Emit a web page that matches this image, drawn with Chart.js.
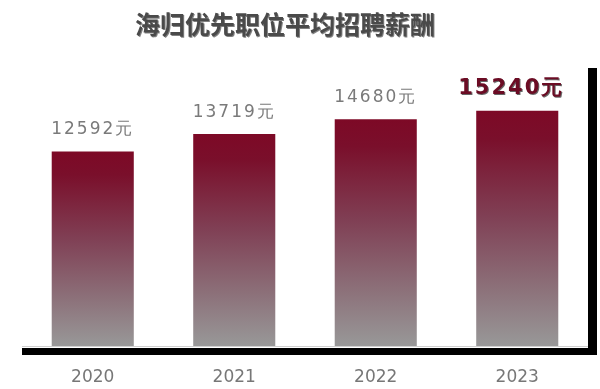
<!DOCTYPE html>
<html>
<head>
<meta charset="utf-8">
<script src="https://cdn.jsdelivr.net/npm/chart.js@4/dist/chart.umd.min.js"></script>
<style>
  body { margin: 0; background: #fff; overflow: hidden; }
  #wrap { width: 600px; height: 389px; }
</style>
</head>
<body>
<div id="wrap"><canvas id="salary-chart"></canvas></div>
<script>
// Chart data
const years = ['2020', '2021', '2022', '2023'];
const salaries = [12592, 13719, 14680, 15240];
const chartTitle = '海归优先职位平均招聘薪酬';
const unit = '元';

// vertical gradient per bar: dark red on top, gray at the bottom
function barGradient(context) {
    const chart = context.chart;
    const area = chart.chartArea;
    if (!area) return '#7d0a27';
    const yScale = chart.scales.y;
    const top = yScale.getPixelForValue(context.raw);
    const bottom = yScale.getPixelForValue(0);
    const g = chart.ctx.createLinearGradient(0, top, 0, bottom);
    g.addColorStop(0, '#7d0926');
    g.addColorStop(0.12, '#7a0f2b');
    g.addColorStop(0.45, '#804055');
    g.addColorStop(0.75, '#8c7079');
    g.addColorStop(1, '#989898');
    return g;
}

// title, frame shadow and value labels
const decorPlugin = {
    id: 'decor',
    beforeDatasetsDraw(chart) {
        const { ctx, chartArea } = chart;
        ctx.save();
        // thin gray baseline
        ctx.fillStyle = '#d0d0d0';
        ctx.fillRect(chartArea.left, chartArea.bottom, chartArea.right - chartArea.left, 1);
        // black frame on right and bottom
        ctx.fillStyle = '#000';
        ctx.fillRect(chartArea.right, chartArea.top, 9, chartArea.bottom - chartArea.top + 9);
        ctx.fillRect(chartArea.left, chartArea.bottom + 2, chartArea.right - chartArea.left + 9, 7);
        ctx.restore();
    },
    afterDatasetsDraw(chart) {
        const ctx = chart.ctx;
        const meta = chart.getDatasetMeta(0);
        ctx.save();
        ctx.textAlign = 'center';
        ctx.textBaseline = 'middle';
        meta.data.forEach((bar, i) => {
            const text = salaries[i] + unit;
            if (i === salaries.length - 1) {
                ctx.font = 'bold 21px "DejaVu Sans"';
                ctx.letterSpacing = '2px';
                ctx.shadowColor = 'rgba(0,0,0,0.6)';
                ctx.shadowOffsetX = 1;
                ctx.shadowOffsetY = 1;
                ctx.fillStyle = '#6b0c24';
                ctx.fillText(text, bar.x - 6, bar.y - 22);
            } else {
                ctx.font = '17px "DejaVu Sans"';
                ctx.letterSpacing = '2px';
                ctx.shadowColor = 'transparent';
                ctx.fillStyle = '#7a7a7a';
                ctx.fillText(text, bar.x, bar.y - 22);
            }
        });
        // title
        ctx.shadowColor = 'rgba(0,0,0,0.5)';
        ctx.shadowOffsetX = 1;
        ctx.shadowOffsetY = 1;
        ctx.letterSpacing = '0px';
        ctx.font = 'bold 25px "Noto Sans CJK SC"';
        ctx.fillStyle = '#4a4a4a';
        ctx.fillText(chartTitle, 285, 24);
        ctx.restore();
    }
};

const ctx = document.getElementById('salary-chart').getContext('2d');
const salaryChart = new Chart(ctx, {
    type: 'bar',
    data: {
        labels: years,
        datasets: [{
            data: salaries,
            backgroundColor: barGradient,
            borderWidth: 0,
            categoryPercentage: 1,
            barPercentage: 0.58
        }]
    },
    options: {
        responsive: true,
        maintainAspectRatio: false,
        animation: false,
        layout: {
            padding: { top: 68, left: 22, right: 12, bottom: 0 }
        },
        plugins: {
            legend: { display: false },
            tooltip: { enabled: false }
        },
        scales: {
            x: {
                grid: { display: false, drawTicks: false },
                border: { display: false },
                ticks: {
                    color: '#777',
                    padding: 21,
                    font: { family: 'DejaVu Sans', size: 17 }
                },
                afterFit(scale) {
                    scale.height = 43;
                }
            },
            y: {
                display: false,
                beginAtZero: true,
                min: 0,
                max: 18000
            }
        }
    },
    plugins: [decorPlugin]
});
</script>
</body>
</html>
